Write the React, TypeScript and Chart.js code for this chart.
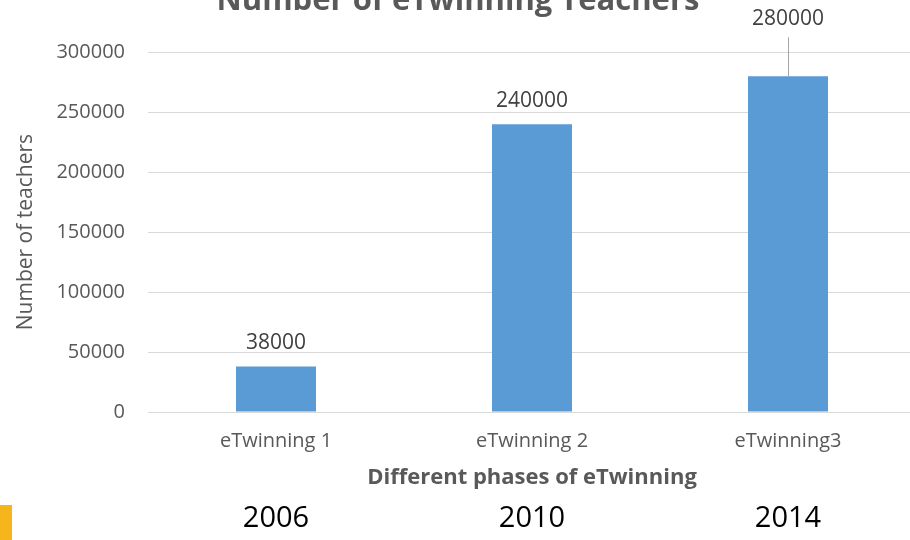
import React, { useEffect, useRef } from "react";
import { Chart, registerables } from "chart.js";

Chart.register(...registerables);

const categories = ["eTwinning 1", "eTwinning 2", "eTwinning3"];
const teachers = [38000, 240000, 280000];
const years = ["2006", "2010", "2014"];
const yTicks = [0, 50000, 100000, 150000, 200000, 250000, 300000];

const chartTitle = "Number of eTwinning Teachers";
const yTitle = "Number of teachers";
const xTitle = "Different phases of eTwinning";

const FONT = "'Open Sans', sans-serif";
const GRAY = "#595959";

const CANVAS_W = 922;
const CANVAS_H = 560;
const CANVAS_TOP = -20;

const valueLabels = {
  id: "valueLabels",
  afterDatasetsDraw(chart: any) {
    const ctx = chart.ctx;
    const meta = chart.getDatasetMeta(0);
    const calloutIndex = 2;
    ctx.save();
    ctx.font = `21px ${FONT}`;
    ctx.fillStyle = "#404040";
    ctx.textAlign = "center";
    ctx.textBaseline = "middle";
    meta.data.forEach((bar: any, i: number) => {
      const v = chart.data.datasets[0].data[i];
      const text = String(v);
      if (i === calloutIndex) {
        const ly = bar.y - 57;
        ctx.strokeStyle = "#a6a6a6";
        ctx.lineWidth = 1;
        ctx.beginPath();
        ctx.moveTo(Math.round(bar.x) + 0.5, ly + 18);
        ctx.lineTo(Math.round(bar.x) + 0.5, bar.y);
        ctx.stroke();
        ctx.fillText(text, bar.x, ly);
      } else {
        ctx.fillText(text, bar.x, bar.y - 23);
      }
    });
    ctx.restore();
  },
};

export default function App() {
  const ref = useRef<HTMLCanvasElement | null>(null);

  useEffect(() => {
    if (!ref.current) return;
    const chart = new Chart(ref.current, {
      type: "bar",
      data: {
        labels: categories,
        datasets: [
          {
            data: teachers,
            backgroundColor: "#5b9bd5",
            borderWidth: 0,
            categoryPercentage: 1,
            barPercentage: 0.3125,
            xAxisID: "x",
            yAxisID: "y",
          },
        ],
      },
      options: {
        responsive: false,
        animation: false,
        devicePixelRatio: 1,
        layout: { padding: { left: 0, right: 6, top: 0, bottom: 0 } },
        plugins: {
          legend: { display: false },
          tooltip: { enabled: false },
          title: {
            display: true,
            text: chartTitle,
            color: GRAY,
            font: { family: FONT, size: 31, weight: "bold" },
            padding: { top: 3, bottom: 32 },
          },
        },
        scales: {
          x: {
            type: "category",
            position: "bottom",
            weight: 0,
            offset: true,
            grid: { display: false, drawTicks: false },
            border: { display: false },
            ticks: {
              color: GRAY,
              font: { family: FONT, size: 20 },
              padding: 17,
              maxRotation: 0,
            },
            title: {
              display: true,
              text: xTitle,
              color: GRAY,
              font: { family: FONT, size: 22, weight: "bold" },
              padding: { top: 0, bottom: 3 },
            },
            afterFit(scale: any) {
              scale.height = 82;
            },
          },
          x2: {
            type: "category",
            position: "bottom",
            weight: 1,
            offset: true,
            labels: years,
            grid: { display: false, drawTicks: false },
            border: { display: false },
            ticks: {
              color: "#000000",
              font: { family: FONT, size: 29 },
              padding: 7,
              maxRotation: 0,
            },
            afterFit(scale: any) {
              scale.height = 46;
            },
          },
          y: {
            min: 0,
            max: 300000,
            afterBuildTicks(scale: any) {
              scale.ticks = yTicks.map((v) => ({ value: v }));
            },
            grid: { color: "#d9d9d9", lineWidth: 1, drawTicks: false },
            border: { display: false },
            ticks: {
              color: GRAY,
              font: { family: FONT, size: 20 },
              padding: 23,
              callback: (v: any) => String(v),
            },
            title: {
              display: true,
              text: yTitle,
              color: GRAY,
              font: { family: FONT, size: 21 },
              padding: { top: 13, bottom: 0 },
            },
            afterFit(scale: any) {
              scale.width = 148;
            },
          },
        },
      },
      plugins: [valueLabels],
    } as any);
    return () => chart.destroy();
  }, []);

  return (
    <div
      style={{
        position: "fixed",
        left: 0,
        top: 0,
        width: 910,
        height: 540,
        overflow: "hidden",
        background: "#ffffff",
      }}
    >
      <canvas
        ref={ref}
        width={CANVAS_W}
        height={CANVAS_H}
        style={{
          position: "absolute",
          left: 0,
          top: CANVAS_TOP,
          width: CANVAS_W,
          height: CANVAS_H,
        }}
      />
      <div
        style={{
          position: "absolute",
          left: 0,
          top: 505,
          width: 12,
          height: 35,
          background: "#f6b41d",
        }}
      />
    </div>
  );
}
